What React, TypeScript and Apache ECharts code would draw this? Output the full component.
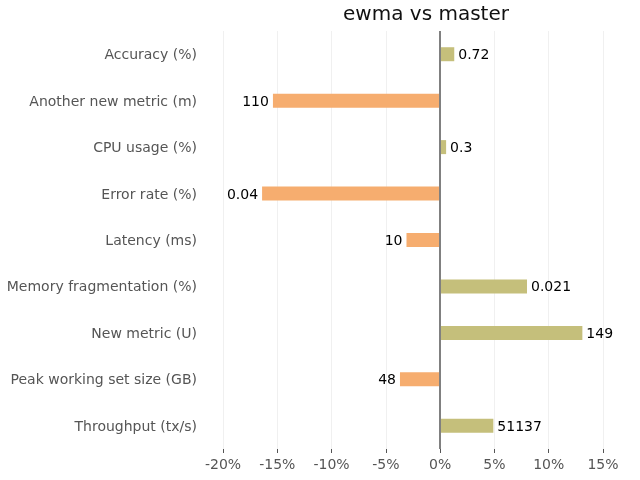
import React, { useEffect, useRef } from "react";
import * as echarts from "echarts";

const categories = [
  "Accuracy (%)",
  "Another new metric (m)",
  "CPU usage (%)",
  "Error rate (%)",
  "Latency (ms)",
  "Memory fragmentation (%)",
  "New metric (U)",
  "Peak working set size (GB)",
  "Throughput (tx/s)",
];
const pctChange = [1.3, -15.4, 0.55, -16.4, -3.1, 8.0, 13.1, -3.7, 4.9];
const valueLabels = ["0.72", "110", "0.3", "0.04", "10", "0.021", "149", "48", "51137"];
const xTicks = [-20, -15, -10, -5, 0, 5, 10, 15];

const POS = "#c5bf7b";
const NEG = "#f6ad6f";
const FONT = "DejaVu Sans";

export default function App() {
  const ref = useRef<HTMLDivElement>(null);
  useEffect(() => {
    if (!ref.current) return;
    const chart = echarts.init(ref.current, null, { renderer: "svg" });
    chart.setOption({
      animation: false,
      title: {
        text: "ewma vs master",
        left: 421,
        top: -2,
        textAlign: "center",
        textStyle: { fontFamily: FONT, fontSize: 20, fontWeight: "normal", color: "#111" },
      },
      grid: { left: 223, right: 37, top: 31, bottom: 31 },
      xAxis: {
        type: "value",
        min: xTicks[0],
        max: xTicks[xTicks.length - 1],
        interval: 5,
        axisLine: { show: false },
        axisTick: { show: true, length: 4, lineStyle: { color: "#555" } },
        axisLabel: {
          formatter: (v: number) => `${v}%`,
          color: "#555",
          fontFamily: FONT,
          fontSize: 14,
          margin: 8,
        },
        splitLine: { show: true, lineStyle: { color: "#f0f0f0", width: 1 } },
      },
      yAxis: {
        type: "category",
        data: categories,
        inverse: true,
        axisLine: { show: false },
        axisTick: { show: false },
        axisLabel: { color: "#555", fontFamily: FONT, fontSize: 14, margin: 26 },
        splitLine: { show: false },
      },
      series: [
        {
          type: "bar",
          barWidth: 14,
          data: pctChange.map((v, i) => ({
            value: v,
            itemStyle: { color: v >= 0 ? POS : NEG },
            label: {
              show: true,
              position: v >= 0 ? "right" : "left",
              distance: 4,
              formatter: () => valueLabels[i],
              color: "#000",
              fontFamily: FONT,
              fontSize: 14,
            },
          })),
          markLine: {
            silent: true,
            symbol: "none",
            label: { show: false },
            lineStyle: { color: "#808080", width: 2, type: "solid" },
            data: [{ xAxis: 0 }],
          },
        },
      ],
    });
    return () => chart.dispose();
  }, []);
  return (
    <div
      ref={ref}
      style={{ position: "fixed", left: 0, top: 0, width: 640, height: 480 }}
    />
  );
}
